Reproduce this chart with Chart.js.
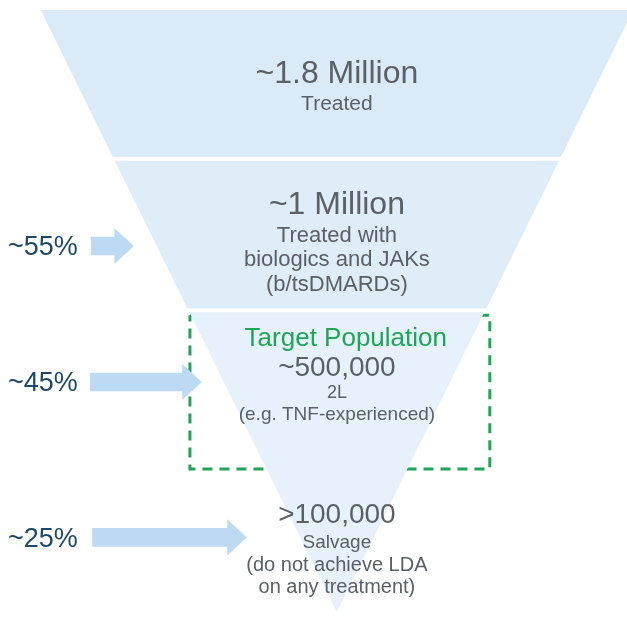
<!DOCTYPE html>
<html><head><meta charset="utf-8">
<script src="https://cdn.jsdelivr.net/npm/chart.js@4.4.1/dist/chart.umd.min.js"></script>
<style>html,body{margin:0;padding:0;background:#fff;} canvas{display:block;}</style>
</head><body>
<canvas id="funnel" width="627" height="617"></canvas>
<script>
// Patient funnel: headline count for each stage
const stageCounts = ['~1.8 Million', '~1 Million', '~500,000', '>100,000'];
const stageNotes = [
  ['Treated'],
  ['Treated with', 'biologics and JAKs', '(b/tsDMARDs)'],
  ['2L', '(e.g. TNF-experienced)'],
  ['Salvage', '(do not achieve LDA', 'on any treatment)']
];
// share of patients moving on to the next stage
const stepShares = ['~55%', '~45%', '~25%'];
const targetTitle = 'Target Population';
// depth levels of the funnel (100 = rim, 0 = tip) separating the shaded bands
const bandLevels = [100, 75.3, 50.1, 0];

// ---- layout (funnel units: x = share of rim half-width, y = depth level) ----
const BAND_GAP = 0.65;
const bandColors = ['#dbeaf7', '#deedf8', '#e6f1fb'];
const headlineLevels = [89.7, 67.9, 40.9, 16.4];
const headlineSizes = [32, 32, 28, 28];
const noteOffsets = [[30], [31, 55, 80], [25, 47], [27, 50, 72]];
const noteSizes = [[21], [22, 22, 22], [18, 19], [19, 20, 20]];
const arrowRows = [
  {level: 60.8, tail: -83.0, tip: -68.5},
  {level: 38.2, tail: -83.3, tip: -45.6},
  {level: 12.4, tail: -82.6, tip: -30.4}
];
const ARROW = {shaft: 1.55, head: 3.0, headLen: 6.6};
const targetBox = {left: -49.6, right: 51.6, top: 49.3, bottom: 23.75};
const targetTitlePos = {x: 3.0, level: 45.7};
const shareLabelX = -111;
const TEXT_NUDGE = 2; // px, optical centring of text lines

const FONT = "'Liberation Sans', Arial, sans-serif";
const TEXT_GREY = '#5b6067';
const SHARE_BLUE = '#1d4a6a';
const TARGET_GREEN = '#20a556';
const ARROW_BLUE = '#bcdaf2';

// half-width of the funnel equals its depth level
function band(top, bottom) {
  return [
    {x: -top, y: top}, {x: top, y: top},
    {x: bottom, y: bottom}, {x: -bottom, y: bottom},
    {x: -top, y: top}
  ];
}
function arrow(row) {
  const neck = row.tip - ARROW.headLen;
  const c = row.level;
  return [
    {x: row.tail, y: c + ARROW.shaft}, {x: neck, y: c + ARROW.shaft},
    {x: neck, y: c + ARROW.head}, {x: row.tip, y: c},
    {x: neck, y: c - ARROW.head}, {x: neck, y: c - ARROW.shaft},
    {x: row.tail, y: c - ARROW.shaft}, {x: row.tail, y: c + ARROW.shaft}
  ];
}

const shape = (data, color) => ({
  data, showLine: true, fill: 'shape', backgroundColor: color,
  borderWidth: 0, pointRadius: 0, tension: 0
});

const datasets = [];
for (let i = 0; i < bandLevels.length - 1; i++) {
  const top = bandLevels[i] - (i > 0 ? BAND_GAP / 2 : 0);
  const bottom = bandLevels[i + 1] + (i + 1 < bandLevels.length - 1 ? BAND_GAP / 2 : 0);
  datasets.push(shape(band(top, bottom), bandColors[i]));
}
arrowRows.forEach(r => datasets.push(shape(arrow(r), ARROW_BLUE)));
datasets.push({
  data: [
    {x: targetBox.left, y: targetBox.top}, {x: targetBox.right, y: targetBox.top},
    {x: targetBox.right, y: targetBox.bottom}, {x: targetBox.left, y: targetBox.bottom},
    {x: targetBox.left, y: targetBox.top}
  ],
  showLine: true, fill: false, borderColor: TARGET_GREEN, borderWidth: 3,
  borderDash: [10, 7], pointRadius: 0, tension: 0
});

const funnelText = {
  id: 'funnelText',
  afterDatasetsDraw(chart) {
    const {ctx, scales: {x, y}} = chart;
    const cx = x.getPixelForValue(0);
    ctx.save();
    ctx.textBaseline = 'middle';
    ctx.textAlign = 'center';
    stageCounts.forEach((label, i) => {
      const hy = y.getPixelForValue(headlineLevels[i]) + TEXT_NUDGE;
      ctx.fillStyle = TEXT_GREY;
      ctx.font = `${headlineSizes[i]}px ${FONT}`;
      ctx.fillText(label, cx, hy);
      stageNotes[i].forEach((line, j) => {
        ctx.font = `${noteSizes[i][j]}px ${FONT}`;
        ctx.fillText(line, cx, hy + noteOffsets[i][j]);
      });
    });
    ctx.fillStyle = TARGET_GREEN;
    ctx.font = `26px ${FONT}`;
    ctx.fillText(targetTitle, x.getPixelForValue(targetTitlePos.x),
      y.getPixelForValue(targetTitlePos.level) + TEXT_NUDGE);
    ctx.textAlign = 'left';
    ctx.fillStyle = SHARE_BLUE;
    ctx.font = `27px ${FONT}`;
    stepShares.forEach((s, i) => {
      ctx.fillText(s, x.getPixelForValue(shareLabelX),
        y.getPixelForValue(arrowRows[i].level) + TEXT_NUDGE);
    });
    ctx.restore();
  }
};

new Chart(document.getElementById('funnel'), {
  type: 'scatter',
  data: {datasets},
  options: {
    responsive: false,
    animation: false,
    devicePixelRatio: 1,
    layout: {padding: 0},
    plugins: {legend: {display: false}, tooltip: {enabled: false}},
    scales: {
      x: {type: 'linear', min: -113.7, max: 97.9, display: false},
      y: {type: 'linear', min: -0.83, max: 101.66, display: false}
    }
  },
  plugins: [funnelText]
});
</script>
</body></html>
